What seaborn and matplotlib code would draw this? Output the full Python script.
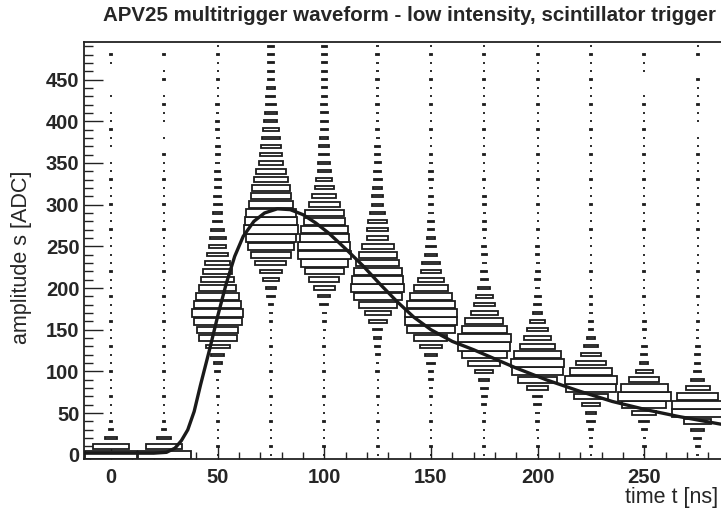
import numpy as np
import pandas as pd
import matplotlib
matplotlib.use('Agg')
import matplotlib.pyplot as plt
from matplotlib.ticker import MultipleLocator
import seaborn as sns

# ── data: counts per (time bin, amplitude bin), amplitude 0..490 in steps of 10 ──
time_bins = [0, 25, 50, 75, 100, 125, 150, 175, 200, 225, 250, 275]
amp_bins = np.arange(0, 500, 10)

counts_t000 = [642, 289, 34, 4, 1, 1, 1, 1, 1, 1,
               1, 1, 1, 1, 1, 1, 1, 1, 1, 1,
               1, 1, 1, 1, 1, 1, 1, 1, 1, 1,
               1, 1, 1, 1, 1, 1, 0, 1, 1, 1,
               1, 1, 0, 1, 0, 0, 0, 1, 1, 0]
counts_t025 = [650, 306, 44, 4, 1, 1, 1, 1, 1, 1,
               1, 1, 1, 1, 1, 1, 1, 1, 1, 1,
               1, 1, 1, 1, 1, 1, 1, 1, 1, 1,
               1, 1, 1, 1, 1, 1, 1, 0, 1, 0,
               1, 1, 1, 1, 0, 1, 1, 0, 1, 0]
counts_t050 = [1, 1, 1, 1, 1, 1, 1, 1, 1, 2,
               5, 16, 44, 136, 336, 400, 544, 625, 514, 427,
               312, 245, 196, 144, 100, 69, 59, 36, 22, 19,
               16, 13, 9, 9, 7, 5, 4, 4, 4, 3,
               3, 3, 3, 1, 1, 1, 1, 1, 1, 1]
counts_t075 = [2, 1, 1, 1, 1, 1, 1, 1, 1, 1,
               1, 1, 1, 1, 1, 1, 2, 3, 5, 13,
               25, 56, 117, 225, 367, 506, 568, 667, 625, 584,
               455, 387, 348, 278, 215, 144, 107, 93, 75, 54,
               40, 36, 28, 19, 16, 11, 11, 9, 9, 9]
counts_t100 = [1, 1, 1, 1, 1, 1, 1, 1, 1, 1,
               1, 1, 1, 1, 1, 2, 3, 5, 16, 34,
               100, 210, 367, 529, 650, 625, 568, 506, 400, 348,
               225, 136, 87, 59, 40, 32, 25, 22, 16, 13,
               11, 11, 9, 7, 7, 7, 7, 7, 7, 7]
counts_t125 = [1, 1, 1, 1, 1, 1, 1, 1, 1, 1,
               2, 3, 4, 5, 13, 22, 75, 156, 336, 544,
               650, 608, 544, 448, 336, 240, 107, 100, 81, 49,
               32, 25, 19, 16, 11, 9, 7, 5, 4, 3,
               2, 2, 2, 2, 2, 2, 2, 2, 2, 2]
counts_t150 = [1, 1, 1, 1, 1, 1, 1, 2, 3, 4,
               5, 13, 32, 107, 256, 529, 625, 625, 544, 400,
               278, 160, 87, 75, 36, 25, 16, 11, 9, 7,
               5, 4, 4, 3, 3, 3, 2, 1, 1, 1,
               1, 1, 1, 1, 1, 1, 1, 1, 1, 1]
counts_t175 = [1, 1, 1, 1, 1, 2, 4, 5, 11, 22,
               75, 240, 469, 642, 667, 484, 336, 178, 107, 69,
               36, 13, 9, 7, 5, 4, 3, 3, 3, 3,
               2, 2, 1, 1, 1, 1, 1, 1, 1, 1,
               1, 1, 1, 1, 1, 1, 1, 1, 1, 1]
counts_t200 = [1, 1, 1, 2, 3, 5, 11, 22, 110, 355,
               600, 650, 506, 289, 165, 100, 51, 22, 13, 9,
               5, 5, 4, 4, 3, 2, 1, 1, 1, 1,
               1, 1, 1, 1, 1, 1, 1, 1, 1, 1,
               1, 1, 1, 1, 1, 1, 1, 1, 1, 1]
counts_t225 = [1, 2, 3, 5, 13, 22, 69, 267, 576, 625,
               420, 210, 90, 42, 13, 5, 4, 3, 2, 2,
               2, 1, 1, 1, 1, 1, 1, 1, 1, 1,
               1, 1, 1, 1, 1, 1, 1, 1, 1, 1,
               1, 1, 1, 1, 1, 1, 1, 1, 1, 1]
counts_t250 = [1, 2, 3, 5, 25, 136, 455, 650, 506, 215,
               69, 16, 9, 5, 3, 3, 3, 1, 1, 1,
               1, 1, 1, 1, 1, 1, 1, 1, 1, 1,
               1, 1, 1, 1, 1, 1, 1, 1, 1, 1,
               1, 1, 1, 1, 0, 0, 1, 1, 1, 0]
counts_t275 = [2, 4, 11, 36, 178, 608, 625, 400, 136, 36,
               11, 7, 5, 4, 3, 2, 1, 1, 1, 1,
               1, 1, 1, 1, 1, 1, 1, 1, 1, 1,
               1, 1, 1, 1, 1, 1, 1, 1, 1, 0,
               1, 1, 1, 1, 1, 1, 0, 0, 1, 1]

# fitted pulse shape
curve_t = [-12.5, 20, 26, 30, 33, 36, 39, 42, 46, 50, 54, 58, 62, 67, 72, 78,
           84, 90, 96, 102, 110, 118, 126, 134, 142, 150, 160, 170, 180, 190,
           204, 220, 235, 251, 266, 287.5]
curve_a = [2, 2, 3, 8, 17, 30, 52, 84, 124, 166, 205, 238, 262, 280, 290, 295,
           294, 288, 278, 266, 247, 227, 205, 184, 165, 150, 136, 126, 115, 104,
           90, 76, 64, 54, 46, 36]

all_counts = [counts_t000, counts_t025, counts_t050, counts_t075, counts_t100,
              counts_t125, counts_t150, counts_t175, counts_t200, counts_t225,
              counts_t250, counts_t275]

rows = []
for t, col in zip(time_bins, all_counts):
    for a, c in zip(amp_bins, col):
        rows.append({'t': t, 'a': a, 'n': c})
df = pd.DataFrame(rows)
df = df[df['n'] > 0]

# ROOT "BOX" style: box side scales with sqrt(content / max)
dt, da = 25.0, 10.0
ratio = np.sqrt(df['n'] / df['n'].max())
box_w = ratio * dt
box_h = ratio * da

# ── figure ──
sns.set_style('ticks')
plt.rcParams['font.family'] = ['Liberation Sans', 'DejaVu Sans']

fig = plt.figure(figsize=(7.21, 5.16), dpi=100)
ax = fig.add_axes([84.3 / 721, 57 / 516, 640 / 721, 417 / 516])

ax.bar(df['t'], box_h, width=box_w, bottom=df['a'] - box_h / 2,
       color='white', edgecolor='#1c1c1c', linewidth=1.3, zorder=2)

sns.lineplot(x=curve_t, y=curve_a, ax=ax, color='#1a1a1a', linewidth=2.4,
             zorder=3, estimator=None, sort=False)

ax.set_xlim(-12.5, 287.5)
ax.set_ylim(-5, 495)
ax.xaxis.set_major_locator(MultipleLocator(50))
ax.xaxis.set_minor_locator(MultipleLocator(10))
ax.yaxis.set_major_locator(MultipleLocator(50))
ax.yaxis.set_minor_locator(MultipleLocator(10))
ax.tick_params(axis='both', which='both', direction='in', top=False, right=False,
               width=1.0, color='#222222')
ax.tick_params(axis='y', which='major', length=13.5, pad=3.5)
ax.tick_params(axis='y', which='minor', length=6.5)
ax.tick_params(axis='x', which='major', length=9.5, pad=6.5)
ax.tick_params(axis='x', which='minor', length=4.7)
for lab in ax.get_xticklabels() + ax.get_yticklabels():
    lab.set_fontweight('bold')
    lab.set_fontsize(14.5)
for s in ax.spines.values():
    s.set_linewidth(1.3)
    s.set_color('#222222')

fig.text(718 / 721, 1 - 497 / 516, 'time t [ns]', ha='right', va='center',
         fontsize=15.5)
fig.text(22 / 721, 1 - 257 / 516, 'amplitude s [ADC]', ha='center', va='center',
         rotation=90, fontsize=15.5)

fig.text(409 / 721, 1 - 6 / 516,
         'APV25 multitrigger waveform - low intensity, scintillator trigger',
         ha='center', va='top', fontsize=14.8, fontweight='bold')

fig.savefig('out.png', dpi=100)
